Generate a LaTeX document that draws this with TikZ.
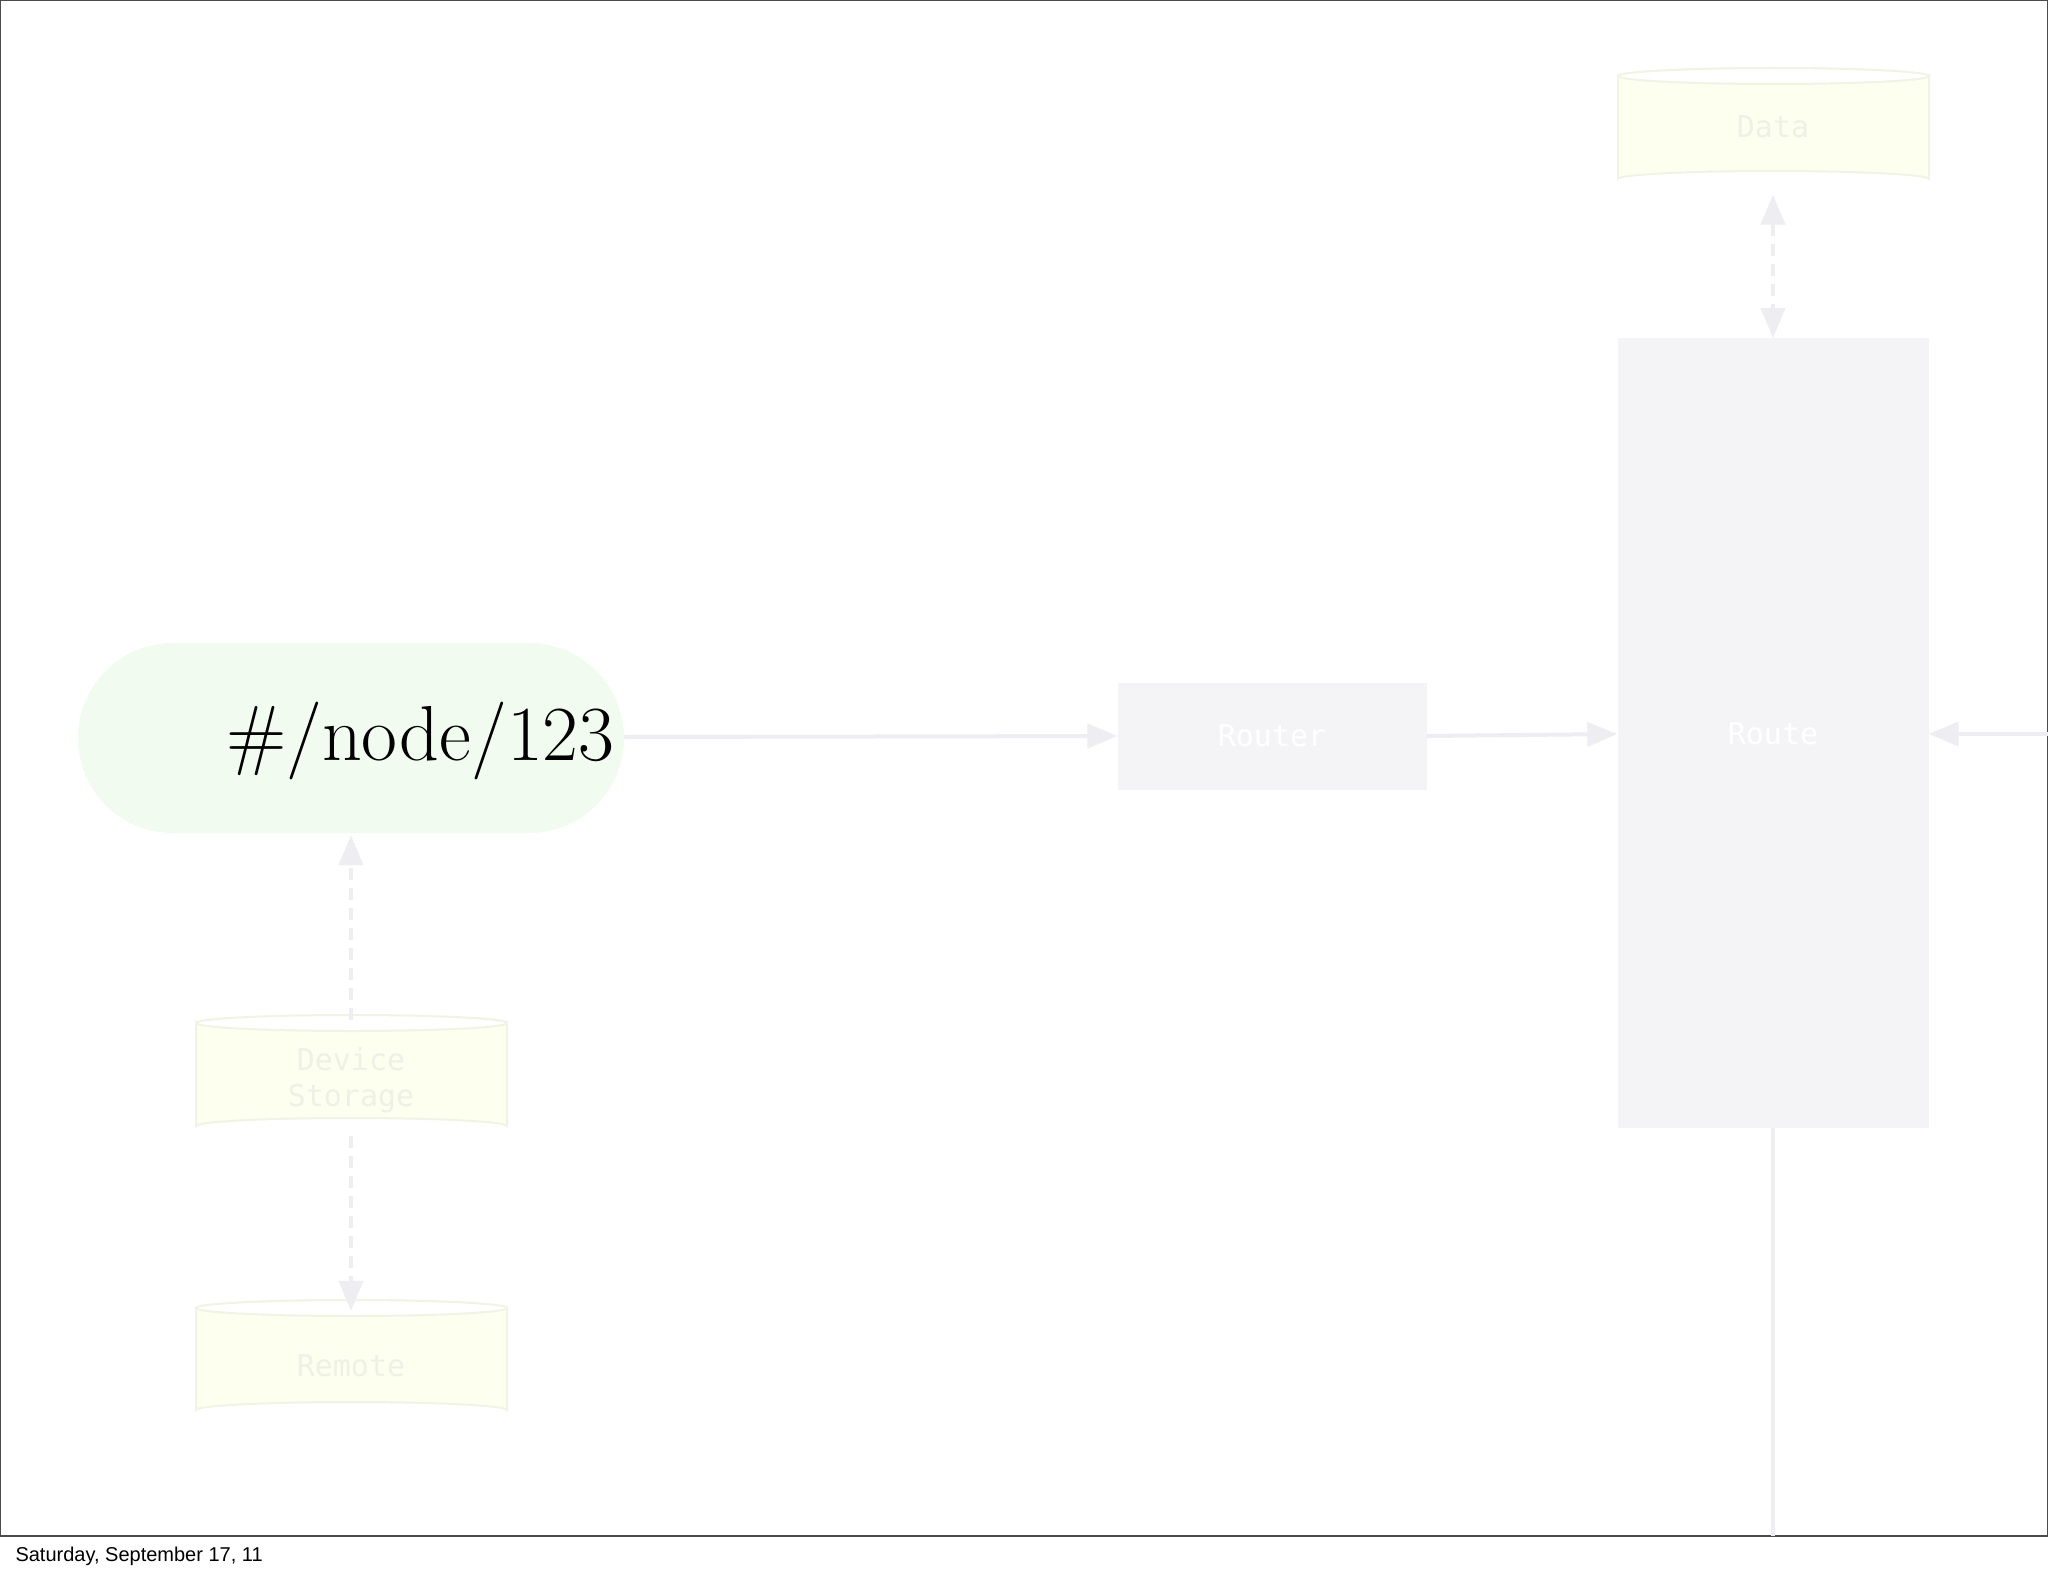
\documentclass[tikz,border=0pt]{standalone}
\usepackage{fontspec}
\newfontfamily\monof{DejaVu Sans Mono}
\newfontfamily\sansf{Liberation Sans}
\usetikzlibrary{arrows.meta}
\definecolor{linec}{HTML}{EEEEF2}
\definecolor{boxc}{HTML}{F4F4F7}
\definecolor{cylc}{HTML}{FDFFEF}
\definecolor{cyle}{HTML}{F1F3E4}
\definecolor{pillc}{HTML}{F1FBF0}
\definecolor{txtc}{HTML}{F0F1E6}
\tikzset{
  conn/.style={draw=linec,line width=4pt,-{Triangle[length=30pt,width=24pt]}},
  dconn/.style={conn,dashed,dash pattern=on 12pt off 8pt},
  gbox/.style={fill=boxc,draw=none,text=white,font=\monof\fontsize{30}{34}\selectfont},
  cyl/.style={draw=none,text=txtc,font=\monof\fontsize{30}{36}\selectfont,align=center}
}
\newcommand{\mycyl}[4]{% x1,y1,x2,y2 (y downward)
  \fill[cylc,draw=cyle,line width=2pt] (#1,#2+8) -- (#1,#4-8) arc[start angle=180,end angle=360,x radius={(#3-#1)/2},y radius=8] -- (#3,#2+8) arc[start angle=0,end angle=180,x radius={(#3-#1)/2},y radius=8] -- cycle;
  \draw[cyle,line width=2pt] (#1,#2+8) arc[start angle=180,end angle=360,x radius={(#3-#1)/2},y radius=8];
}
\begin{document}
\begin{tikzpicture}[x=1pt,y=-1pt]
\useasboundingbox (0,0) rectangle (2048,1576);
\fill[white] (0,0) rectangle (2048,1576);
\draw[black!70,line width=1.5pt] (0,0) rectangle (2048,1536);
\node[anchor=west,font=\sansf\fontsize{20}{24}\selectfont] (foot) at (12,1556) {Saturday, September 17, 11};
% pill
\fill[pillc,rounded corners=95pt] (78,643) rectangle (624,833);
\node[draw=none,minimum width=546pt,minimum height=190pt] (pill) at (351,738) {};
\node[font=\fontsize{78}{80}\selectfont,anchor=base east] (lbl) at (618,760) {\#/node/123};
% router
\node[gbox,minimum width=309pt,minimum height=107pt] (router) at (1272,736) {Router};
% route
\node[gbox,minimum width=311pt,minimum height=790pt,anchor=north] (routebox) at (1773,338) {};
\node[text=white,font=\monof\fontsize{30}{34}\selectfont] (route) at (1773,734) {Route};
% cylinders
\mycyl{1618}{68}{1929}{187}
\node[cyl,minimum width=311pt,minimum height=119pt] (data) at (1773,127) {Data};
\mycyl{196}{1015}{507}{1134}
\node[cyl,minimum width=311pt,minimum height=119pt] (dev) at (351,1080) {Device\\Storage};
\mycyl{196}{1300}{507}{1418}
\node[cyl,minimum width=311pt,minimum height=118pt] (remote) at (351,1366) {Remote};
% connectors
\coordinate (pillE) at (624,737);
\coordinate (rin) at (2048,734);
\coordinate (bot) at (1773,1536);
\draw[conn] (pillE) -- (router.west);
\draw[conn] (router.east) -- (routebox.west |- route);
\draw[conn] (rin) -- (routebox.east |- route);
\draw[draw=linec,line width=4pt] (routebox.south) -- (bot);
\draw[dconn,{Triangle[length=30pt,width=24pt]}-{Triangle[length=30pt,width=24pt]}] ([yshift=-8pt]data.south) -- (routebox.north);
\draw[dconn] (dev.north) -- ([yshift=-2pt]pill.south);
\draw[dconn] ([yshift=4pt]dev.south) -- ([yshift=-4pt]remote.north);
\end{tikzpicture}
\end{document}
